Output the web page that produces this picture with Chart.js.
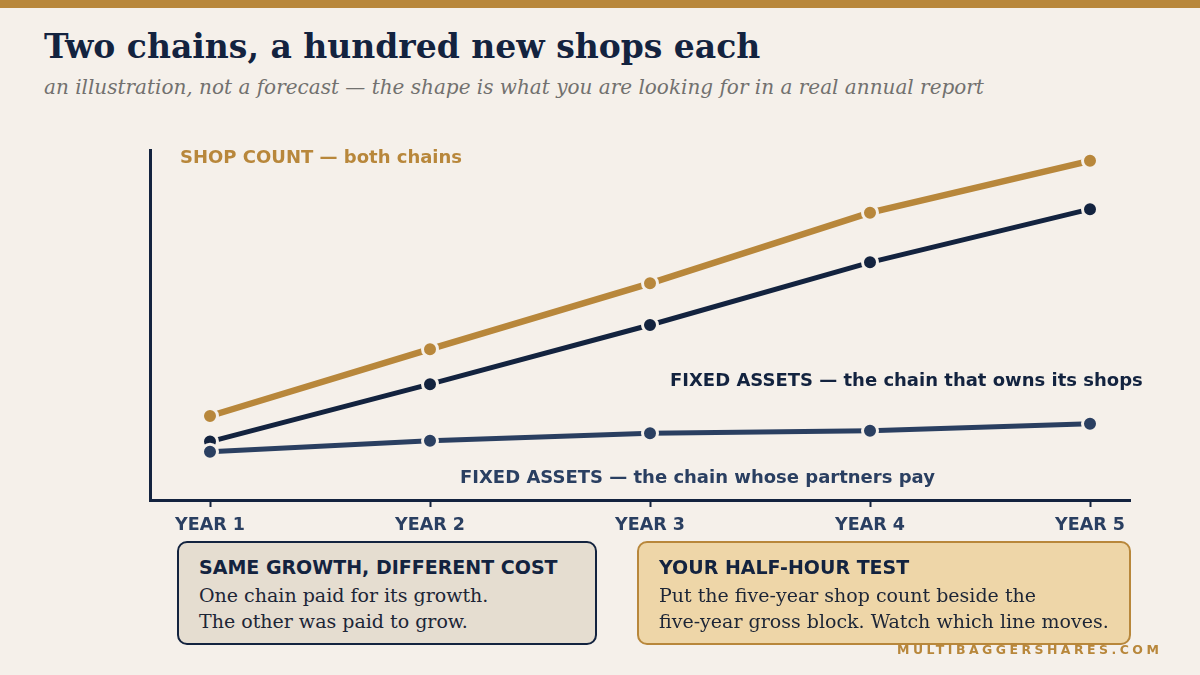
<!DOCTYPE html>
<html><head><meta charset="utf-8">
<script src="https://cdn.jsdelivr.net/npm/chart.js@4"></script>
<style>
html,body{margin:0;padding:0;background:#f5f0ea;}
#wrap{position:relative;width:1200px;height:675px;overflow:hidden;background:#f5f0ea;}
#bar{position:absolute;left:0;top:0;width:1200px;height:8px;background:#b8873b;}
#title{position:absolute;left:44px;top:27px;font:bold 33px "DejaVu Serif";color:#13233f;white-space:nowrap;}
#sub{position:absolute;left:44px;top:75px;font:italic 20px "DejaVu Serif";color:#72716f;white-space:nowrap;}
#cv{position:absolute;left:0;top:0;}
.lab{position:absolute;font:bold 18px "DejaVu Sans";white-space:nowrap;line-height:20px;}
.box{position:absolute;box-sizing:border-box;border-radius:10px;border:2px solid;padding:12px 0 0 20px;}
.box h3{margin:0;font:bold 19px "DejaVu Sans";color:#13233f;line-height:24px;}
.box p{margin:3px 0 0 0;font:19px "DejaVu Serif";color:#1c2536;line-height:26px;}
#foot{position:absolute;left:897px;top:642px;font:bold 12.5px "DejaVu Sans";color:#b8873b;letter-spacing:3.45px;white-space:nowrap;}
</style></head>
<body><div id="wrap">
<div id="bar"></div>
<div id="title">Two chains, a hundred new shops each</div>
<div id="sub">an illustration, not a forecast — the shape is what you are looking for in a real annual report</div>
<canvas id="cv" width="1200" height="675"></canvas>
<div class="lab" style="left:180px;top:147px;color:#b8873b">SHOP COUNT — both chains</div>
<div class="lab" style="left:670px;top:370px;color:#13233f">FIXED ASSETS — the chain that owns its shops</div>
<div class="lab" style="left:460px;top:467px;color:#2a3f61">FIXED ASSETS — the chain whose partners pay</div>
<div class="box" style="left:177px;top:541px;width:420px;height:104px;background:#e5ddd0;border-color:#13233f">
<h3>SAME GROWTH, DIFFERENT COST</h3>
<p>One chain paid for its growth.<br>The other was paid to grow.</p></div>
<div class="box" style="left:637px;top:541px;width:494px;height:104px;background:#eed6a8;border-color:#b8873b">
<h3>YOUR HALF-HOUR TEST</h3>
<p>Put the five-year shop count beside the<br>five-year gross block. Watch which line moves.</p></div>
<div id="foot">MULTIBAGGERSHARES.COM</div>
</div>
<script>
const years = ["YEAR 1","YEAR 2","YEAR 3","YEAR 4","YEAR 5"];
const shopCount = [24.0, 43.1, 61.9, 82.1, 96.9];
const assetsOwner = [16.7, 33.1, 50.0, 67.9, 83.1];
const assetsPartner = [13.8, 16.9, 19.1, 19.8, 21.8];

const BG = "#f5f0ea", GOLD = "#b8873b", NAVY = "#13233f", SLATE = "#2a3f61";
const pts = arr => arr.map((v,i)=>({x:i+1,y:v}));
function ds(data,color,w,order){
  return {data:pts(data),borderColor:color,backgroundColor:color,borderWidth:w,
    pointRadius:7.5,pointHoverRadius:7.5,pointBorderWidth:3,pointBorderColor:BG,
    pointBackgroundColor:color,tension:0,order:order,clip:false};
}
new Chart(document.getElementById("cv"),{
  type:"line",
  data:{datasets:[ds(assetsPartner,SLATE,5,0),ds(assetsOwner,NAVY,5,1),ds(shopCount,GOLD,6.5,2)]},
  options:{
    responsive:false,animation:false,devicePixelRatio:1,
    layout:{padding:{left:150,right:70,top:150,bottom:135}},
    plugins:{legend:{display:false},tooltip:{enabled:false}},
    scales:{
      x:{type:"linear",min:1-60/220,max:5+40/220,
        afterBuildTicks:s=>{s.ticks=years.map((_,i)=>({value:i+1}));},
        afterFit:s=>{s.height=40;},
        grid:{drawOnChartArea:false,tickLength:7,tickWidth:2,tickColor:NAVY,drawTicks:true},
        border:{display:true,color:NAVY,width:3},
        ticks:{callback:v=>years[v-1],color:SLATE,font:{family:"DejaVu Sans",size:17.5,weight:"bold"},padding:8,maxRotation:0}
      },
      y:{min:0,max:100,
        afterFit:s=>{s.width=0;},
        grid:{display:false},
        border:{display:true,color:NAVY,width:3},
        ticks:{display:false}
      }
    }
  }
});
</script>
</body></html>
